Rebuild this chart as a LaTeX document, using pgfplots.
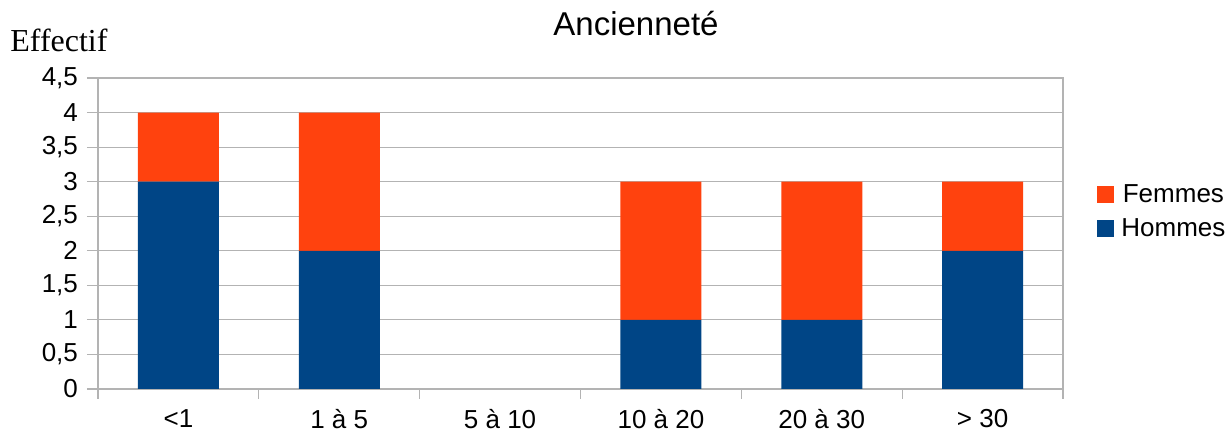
\documentclass[border=0pt]{standalone}
\usepackage{pgfplots}
\pgfplotsset{compat=1.18}
\usepackage{fontspec}
\setmainfont{Liberation Sans}
\newfontfamily\serifont{Liberation Serif}

\definecolor{hommes}{HTML}{004586}
\definecolor{femmes}{HTML}{FF420E}
\definecolor{axisgray}{HTML}{B3B3B3}

\begin{document}
\begin{tikzpicture}
\begin{axis}[
    name=ax,
    scale only axis,
    width=482.5pt, height=155.5pt,
    ybar stacked,
    bar width=40.5pt,
    xmin=-0.5, xmax=5.5,
    ymin=0, ymax=4.5,
    xtick={0,1,2,3,4,5},
    xticklabels={{<1},{1 à 5},{5 à 10},{10 à 20},{20 à 30},{> 30}},
    minor xtick={-0.5,0.5,1.5,2.5,3.5,4.5,5.5},
    ytick={0,0.5,1,1.5,2,2.5,3,3.5,4,4.5},
    xtick pos=bottom, ytick pos=left,
    major x tick style={draw=none},
    tick align=outside,
    major tick length=5.5pt,
    minor tick length=5pt,
    tick style={axisgray, line width=0.6pt},
    axis line style={axisgray, line width=0.6pt},
    ymajorgrids=true,
    grid style={axisgray, line width=0.6pt},
    /pgf/number format/assume math mode=true,
    /pgf/number format/use comma,
    yticklabel style={font=\fontsize{13}{15}\selectfont, xshift=-1pt},
    xticklabel style={font=\fontsize{13}{15}\selectfont, yshift=-4.5pt, inner ysep=0pt},
    legend style={draw=none, at={(1,0.569)}, anchor=west, xshift=14pt,
        font=\fontsize{13}{15}\selectfont, row sep=3pt,
        nodes={inner xsep=3.5pt}},
    reverse legend,
    clip=false,
]
\addplot[fill=hommes, draw=none,
    legend image code/.code={\fill[hommes] (0pt,-4pt) rectangle (8.5pt,4.5pt);}]
    coordinates {(0,3) (1,2) (2,0) (3,1) (4,1) (5,2)};
\addlegendentry{Hommes}
\addplot[fill=femmes, draw=none,
    legend image code/.code={\fill[femmes] (0pt,-4pt) rectangle (8.5pt,4.5pt);}]
    coordinates {(0,1) (1,2) (2,0) (3,2) (4,2) (5,1)};
\addlegendentry{Femmes}
\node[anchor=base, font=\fontsize{16.5}{20}\selectfont] at ([xshift=269pt, yshift=21pt]rel axis cs:0,1) {Ancienneté};
\node[anchor=base west, inner sep=0pt, font=\serifont\fontsize{16}{18}\selectfont] at ([xshift=-44pt, yshift=13pt]rel axis cs:0,1) {Effectif};
\end{axis}
\pgfresetboundingbox
\path ([xshift=-49pt,yshift=-24pt]ax.south west) rectangle ([xshift=84.5pt,yshift=39pt]ax.north east);
\end{tikzpicture}
\end{document}
